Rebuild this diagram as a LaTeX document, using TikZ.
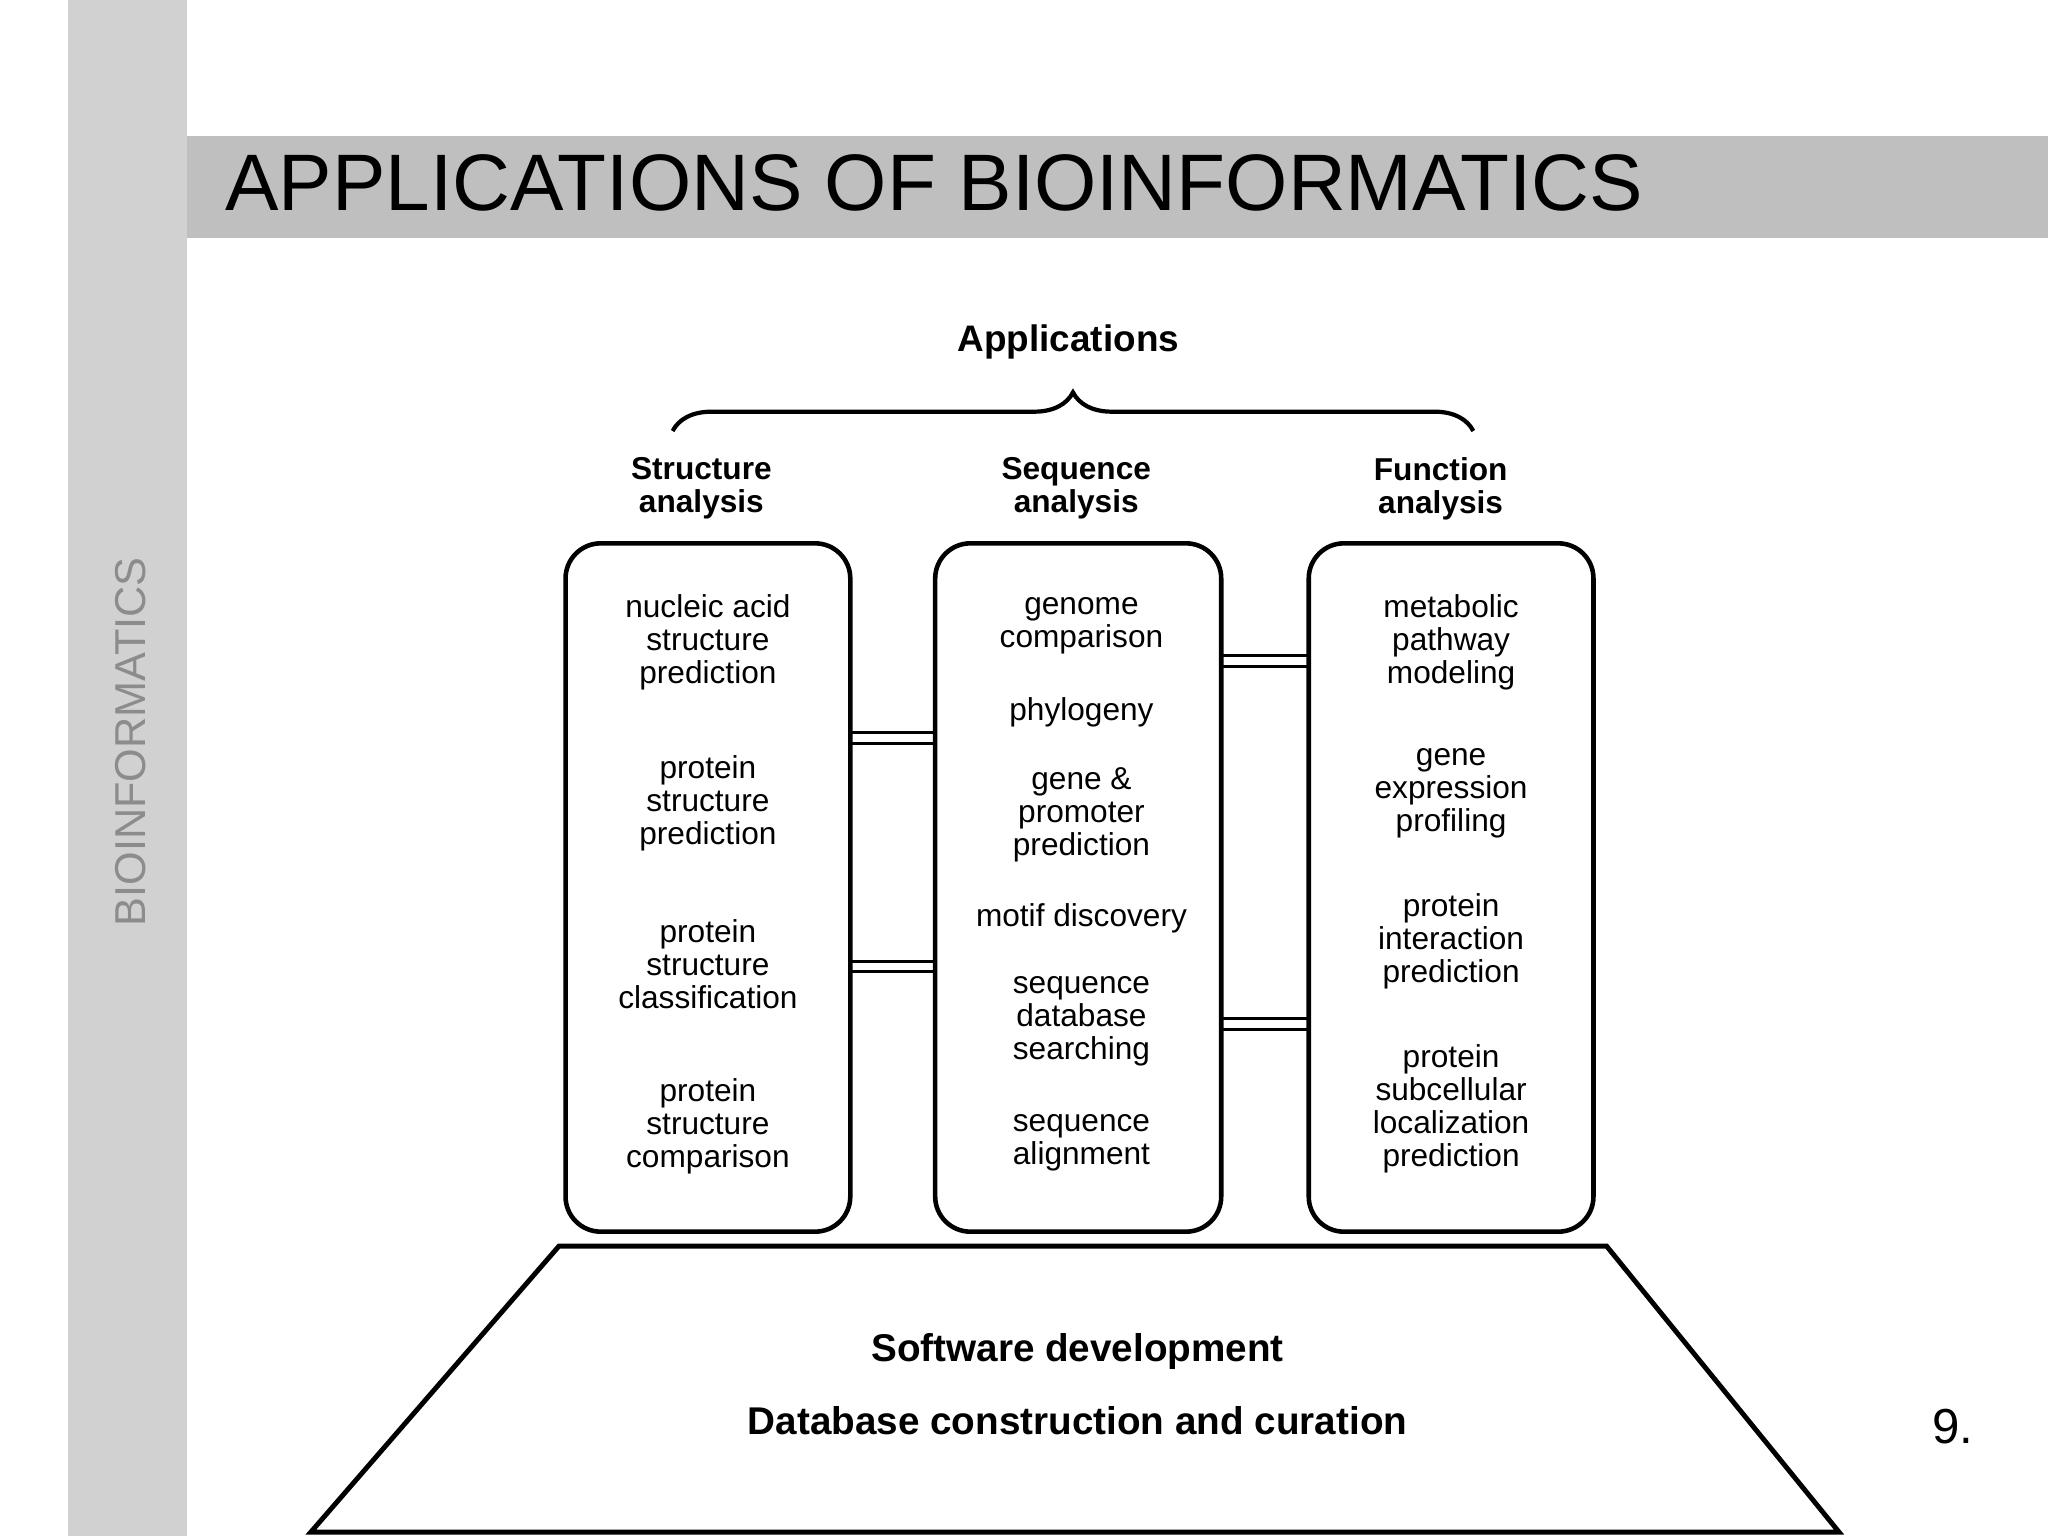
\documentclass[tikz,border=0pt]{standalone}
\usepackage{fontspec}
\setmainfont{Liberation Sans}
\usetikzlibrary{decorations.pathreplacing}
\begin{document}
\begin{tikzpicture}[x=0.013061cm,y=-0.013061cm,
  box/.style={draw,line width=1.3pt,rounded corners=10pt},
  itm/.style={align=center,font=\fontsize{9}{9.4}\selectfont},
  hdr/.style={align=center,font=\bfseries\fontsize{9}{9.4}\selectfont},
  dbl/.style={line width=0.8pt}]
\useasboundingbox (0,0) rectangle (1568,1176);
\fill[white] (0,0) rectangle (1568,1176);
\fill[black!18] (52,0) rectangle (143,1176);
\fill[black!25] (143,104) rectangle (1568,182);
\node[anchor=west,font=\fontsize{22.8}{22.8}\selectfont,inner sep=0] (title) at (172,140) {APPLICATIONS OF BIOINFORMATICS};
\node[rotate=90,text=black!45,font=\fontsize{12.3}{12.3}\selectfont,inner sep=0] (side) at (100,568) {BIOINFORMATICS};
\node[hdr,font=\bfseries\fontsize{10.5}{10.5}\selectfont] (app) at (818,262) {Applications};
\draw[line width=1.2pt,decorate,decoration={brace,amplitude=11pt,aspect=0.5}] (515,330) -- (1128,330);
\node[hdr] (h1) at (537,374) {Structure\\analysis};
\node[hdr] (h2) at (824,374) {Sequence\\analysis};
\node[hdr] (h3) at (1103,374) {Function\\analysis};
\draw[box] (433,416) rectangle (651,943);
\path (651,416) coordinate (b1e) (716,416) coordinate (b2w) (935,416) coordinate (b2e) (1002,416) coordinate (b3w);
\draw[box] (716,416) rectangle (935,943);
\draw[box] (1002,416) rectangle (1220,943);
\foreach \y in {561,569,736,744}{\draw[dbl] (b1e |- 0,\y) -- (b2w |- 0,\y);}
\foreach \y in {502,510,780,788}{\draw[dbl] (b2e |- 0,\y) -- (b3w |- 0,\y);}
\node[itm] (a1) at (542,492) {nucleic acid\\structure\\prediction};
\node[itm] (a2) at (542,615) {protein\\structure\\prediction};
\node[itm] (a3) at (542,738) {protein\\structure\\classification};
\node[itm] (a4) at (542,862) {protein\\structure\\comparison};
\node[itm] (s1) at (828,479) {genome\\comparison};
\node[itm] (s2) at (828,545) {phylogeny};
\node[itm] (s3) at (828,624) {gene \&\\promoter\\prediction};
\node[itm] (s4) at (828,703) {motif discovery};
\node[itm] (s5) at (828,782) {sequence\\database\\searching};
\node[itm] (s6) at (828,875) {sequence\\alignment};
\node[itm] (f1) at (1111,492) {metabolic\\pathway\\modeling};
\node[itm] (f2) at (1111,607) {gene\\expression\\profiling};
\node[itm] (f3) at (1111,721) {protein\\interaction\\prediction};
\node[itm] (f4) at (1111,849) {protein\\subcellular\\localization\\prediction};
\draw[line width=1.4pt] (428,954) -- (1230,954) -- (1408,1173) -- (238,1173) -- cycle;
\node[hdr,font=\bfseries\fontsize{11}{11}\selectfont] (sw) at (825,1035) {Software development};
\node[hdr,font=\bfseries\fontsize{11}{11}\selectfont] (db) at (825,1088) {Database construction and curation};
\node[font=\fontsize{14}{14}\selectfont] (pg) at (1495,1092) {9.};
\end{tikzpicture}
\end{document}
